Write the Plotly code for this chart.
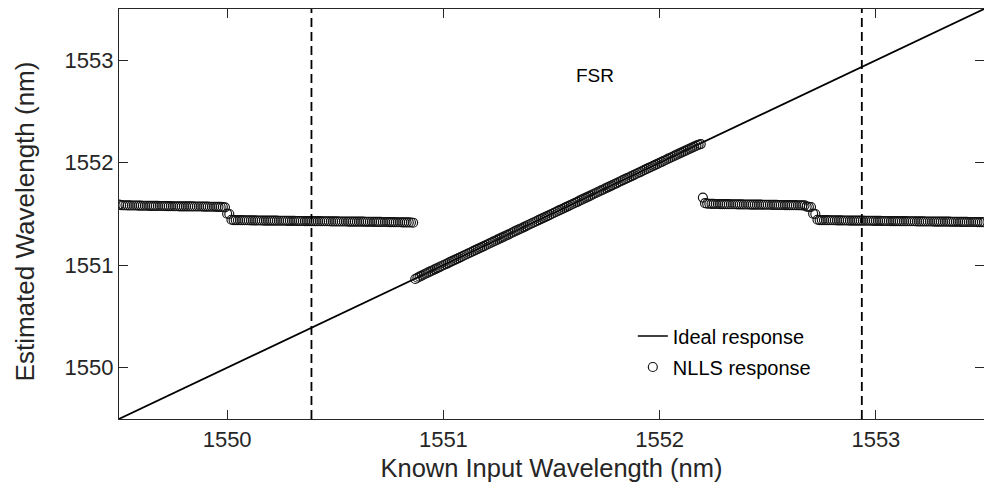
import plotly.graph_objects as go

# Known input wavelength sweep (nm), split into the three NLLS branches
x_branch_low = [
    1549.50, 1549.51, 1549.52, 1549.53, 1549.54, 1549.55, 1549.56, 1549.57, 1549.58, 1549.59,
    1549.60, 1549.61, 1549.62, 1549.63, 1549.64, 1549.65, 1549.66, 1549.67, 1549.68, 1549.69,
    1549.70, 1549.71, 1549.72, 1549.73, 1549.74, 1549.75, 1549.76, 1549.77, 1549.78, 1549.79,
    1549.80, 1549.81, 1549.82, 1549.83, 1549.84, 1549.85, 1549.86, 1549.87, 1549.88, 1549.89,
    1549.90, 1549.91, 1549.92, 1549.93, 1549.94, 1549.95, 1549.96, 1549.97, 1549.98, 1549.99,
    1550.00, 1550.01, 1550.02, 1550.03, 1550.04, 1550.05, 1550.06, 1550.07, 1550.08, 1550.09,
    1550.10, 1550.11, 1550.12, 1550.13, 1550.14, 1550.15, 1550.16, 1550.17, 1550.18, 1550.19,
    1550.20, 1550.21, 1550.22, 1550.23, 1550.24, 1550.25, 1550.26, 1550.27, 1550.28, 1550.29,
    1550.30, 1550.31, 1550.32, 1550.33, 1550.34, 1550.35, 1550.36, 1550.37, 1550.38, 1550.39,
    1550.40, 1550.41, 1550.42, 1550.43, 1550.44, 1550.45, 1550.46, 1550.47, 1550.48, 1550.49,
    1550.50, 1550.51, 1550.52, 1550.53, 1550.54, 1550.55, 1550.56, 1550.57, 1550.58, 1550.59,
    1550.60, 1550.61, 1550.62, 1550.63, 1550.64, 1550.65, 1550.66, 1550.67, 1550.68, 1550.69,
    1550.70, 1550.71, 1550.72, 1550.73, 1550.74, 1550.75, 1550.76, 1550.77, 1550.78, 1550.79,
    1550.80, 1550.81, 1550.82, 1550.83, 1550.84, 1550.85, 1550.86,
]
y_branch_low = [
    1551.592, 1551.586, 1551.585, 1551.585, 1551.584, 1551.584, 1551.583, 1551.583, 1551.583, 1551.582,
    1551.582, 1551.581, 1551.581, 1551.581, 1551.580, 1551.580, 1551.579, 1551.579, 1551.579, 1551.578,
    1551.578, 1551.578, 1551.577, 1551.577, 1551.577, 1551.576, 1551.576, 1551.576, 1551.575, 1551.575,
    1551.575, 1551.575, 1551.574, 1551.574, 1551.574, 1551.573, 1551.573, 1551.573, 1551.573, 1551.572,
    1551.572, 1551.572, 1551.571, 1551.571, 1551.571, 1551.570, 1551.570, 1551.569, 1551.568, 1551.565,
    1551.503, 1551.500, 1551.444, 1551.441, 1551.441, 1551.440, 1551.440, 1551.440, 1551.439, 1551.439,
    1551.439, 1551.438, 1551.438, 1551.438, 1551.437, 1551.437, 1551.437, 1551.436, 1551.436, 1551.436,
    1551.436, 1551.435, 1551.435, 1551.435, 1551.434, 1551.434, 1551.434, 1551.434, 1551.433, 1551.433,
    1551.433, 1551.433, 1551.432, 1551.432, 1551.432, 1551.432, 1551.431, 1551.431, 1551.431, 1551.431,
    1551.430, 1551.430, 1551.430, 1551.430, 1551.429, 1551.429, 1551.429, 1551.429, 1551.428, 1551.428,
    1551.428, 1551.428, 1551.427, 1551.427, 1551.427, 1551.427, 1551.426, 1551.426, 1551.426, 1551.426,
    1551.425, 1551.425, 1551.425, 1551.425, 1551.424, 1551.424, 1551.424, 1551.424, 1551.423, 1551.423,
    1551.423, 1551.423, 1551.422, 1551.422, 1551.422, 1551.421, 1551.421, 1551.421, 1551.420, 1551.420,
    1551.420, 1551.419, 1551.419, 1551.418, 1551.418, 1551.417, 1551.415,
]

x_branch_mid = [
    1550.87, 1550.88, 1550.89,
    1550.90, 1550.91, 1550.92, 1550.93, 1550.94, 1550.95, 1550.96, 1550.97, 1550.98, 1550.99,
    1551.00, 1551.01, 1551.02, 1551.03, 1551.04, 1551.05, 1551.06, 1551.07, 1551.08, 1551.09,
    1551.10, 1551.11, 1551.12, 1551.13, 1551.14, 1551.15, 1551.16, 1551.17, 1551.18, 1551.19,
    1551.20, 1551.21, 1551.22, 1551.23, 1551.24, 1551.25, 1551.26, 1551.27, 1551.28, 1551.29,
    1551.30, 1551.31, 1551.32, 1551.33, 1551.34, 1551.35, 1551.36, 1551.37, 1551.38, 1551.39,
    1551.40, 1551.41, 1551.42, 1551.43, 1551.44, 1551.45, 1551.46, 1551.47, 1551.48, 1551.49,
    1551.50, 1551.51, 1551.52, 1551.53, 1551.54, 1551.55, 1551.56, 1551.57, 1551.58, 1551.59,
    1551.60, 1551.61, 1551.62, 1551.63, 1551.64, 1551.65, 1551.66, 1551.67, 1551.68, 1551.69,
    1551.70, 1551.71, 1551.72, 1551.73, 1551.74, 1551.75, 1551.76, 1551.77, 1551.78, 1551.79,
    1551.80, 1551.81, 1551.82, 1551.83, 1551.84, 1551.85, 1551.86, 1551.87, 1551.88, 1551.89,
    1551.90, 1551.91, 1551.92, 1551.93, 1551.94, 1551.95, 1551.96, 1551.97, 1551.98, 1551.99,
    1552.00, 1552.01, 1552.02, 1552.03, 1552.04, 1552.05, 1552.06, 1552.07, 1552.08, 1552.09,
    1552.10, 1552.11, 1552.12, 1552.13, 1552.14, 1552.15, 1552.16, 1552.17, 1552.18, 1552.19,
]
y_branch_mid = [
    1550.866, 1550.878, 1550.889,
    1550.899, 1550.910, 1550.920, 1550.930, 1550.940, 1550.949, 1550.960, 1550.970, 1550.980, 1550.990,
    1551.000, 1551.010, 1551.019, 1551.030, 1551.040, 1551.050, 1551.060, 1551.069, 1551.080, 1551.090,
    1551.100, 1551.110, 1551.120, 1551.129, 1551.140, 1551.150, 1551.160, 1551.170, 1551.180, 1551.189,
    1551.200, 1551.210, 1551.220, 1551.230, 1551.239, 1551.250, 1551.260, 1551.270, 1551.280, 1551.290,
    1551.299, 1551.310, 1551.320, 1551.330, 1551.340, 1551.350, 1551.359, 1551.370, 1551.380, 1551.390,
    1551.400, 1551.410, 1551.420, 1551.429, 1551.440, 1551.450, 1551.460, 1551.470, 1551.480, 1551.489,
    1551.500, 1551.510, 1551.520, 1551.530, 1551.540, 1551.549, 1551.560, 1551.570, 1551.580, 1551.590,
    1551.600, 1551.610, 1551.619, 1551.630, 1551.640, 1551.650, 1551.660, 1551.670, 1551.679, 1551.690,
    1551.700, 1551.710, 1551.720, 1551.730, 1551.739, 1551.750, 1551.760, 1551.770, 1551.780, 1551.790,
    1551.799, 1551.810, 1551.820, 1551.830, 1551.840, 1551.850, 1551.859, 1551.870, 1551.880, 1551.890,
    1551.900, 1551.909, 1551.920, 1551.930, 1551.940, 1551.950, 1551.959, 1551.970, 1551.980, 1551.989,
    1552.000, 1552.009, 1552.020, 1552.029, 1552.040, 1552.049, 1552.059, 1552.069, 1552.079, 1552.089,
    1552.099, 1552.109, 1552.118, 1552.128, 1552.138, 1552.148, 1552.157, 1552.167, 1552.176, 1552.182,
]

x_branch_high = [
    1552.20, 1552.21, 1552.22, 1552.23, 1552.24, 1552.25, 1552.26, 1552.27, 1552.28, 1552.29,
    1552.30, 1552.31, 1552.32, 1552.33, 1552.34, 1552.35, 1552.36, 1552.37, 1552.38, 1552.39,
    1552.40, 1552.41, 1552.42, 1552.43, 1552.44, 1552.45, 1552.46, 1552.47, 1552.48, 1552.49,
    1552.50, 1552.51, 1552.52, 1552.53, 1552.54, 1552.55, 1552.56, 1552.57, 1552.58, 1552.59,
    1552.60, 1552.61, 1552.62, 1552.63, 1552.64, 1552.65, 1552.66, 1552.67, 1552.68, 1552.69,
    1552.70, 1552.71, 1552.72, 1552.73, 1552.74, 1552.75, 1552.76, 1552.77, 1552.78, 1552.79,
    1552.80, 1552.81, 1552.82, 1552.83, 1552.84, 1552.85, 1552.86, 1552.87, 1552.88, 1552.89,
    1552.90, 1552.91, 1552.92, 1552.93, 1552.94, 1552.95, 1552.96, 1552.97, 1552.98, 1552.99,
    1553.00, 1553.01, 1553.02, 1553.03, 1553.04, 1553.05, 1553.06, 1553.07, 1553.08, 1553.09,
    1553.10, 1553.11, 1553.12, 1553.13, 1553.14, 1553.15, 1553.16, 1553.17, 1553.18, 1553.19,
    1553.20, 1553.21, 1553.22, 1553.23, 1553.24, 1553.25, 1553.26, 1553.27, 1553.28, 1553.29,
    1553.30, 1553.31, 1553.32, 1553.33, 1553.34, 1553.35, 1553.36, 1553.37, 1553.38, 1553.39,
    1553.40, 1553.41, 1553.42, 1553.43, 1553.44, 1553.45, 1553.46, 1553.47, 1553.48, 1553.49,
    1553.50,
]
y_branch_high = [
    1551.660, 1551.606, 1551.601, 1551.600, 1551.599, 1551.599, 1551.598, 1551.598, 1551.597, 1551.597,
    1551.596, 1551.596, 1551.596, 1551.595, 1551.595, 1551.595, 1551.594, 1551.594, 1551.594, 1551.593,
    1551.593, 1551.593, 1551.592, 1551.592, 1551.592, 1551.591, 1551.591, 1551.591, 1551.590, 1551.590,
    1551.590, 1551.590, 1551.589, 1551.589, 1551.589, 1551.588, 1551.588, 1551.588, 1551.587, 1551.587,
    1551.587, 1551.586, 1551.586, 1551.586, 1551.585, 1551.585, 1551.584, 1551.584, 1551.572, 1551.570,
    1551.568, 1551.503, 1551.500, 1551.444, 1551.441, 1551.441, 1551.440, 1551.440, 1551.440, 1551.439,
    1551.439, 1551.439, 1551.438, 1551.438, 1551.438, 1551.437, 1551.437, 1551.437, 1551.436, 1551.436,
    1551.436, 1551.436, 1551.435, 1551.435, 1551.435, 1551.434, 1551.434, 1551.434, 1551.434, 1551.433,
    1551.433, 1551.433, 1551.433, 1551.432, 1551.432, 1551.432, 1551.432, 1551.431, 1551.431, 1551.431,
    1551.431, 1551.430, 1551.430, 1551.430, 1551.430, 1551.429, 1551.429, 1551.429, 1551.429, 1551.428,
    1551.428, 1551.428, 1551.428, 1551.427, 1551.427, 1551.427, 1551.427, 1551.426, 1551.426, 1551.426,
    1551.426, 1551.425, 1551.425, 1551.425, 1551.425, 1551.424, 1551.424, 1551.424, 1551.424, 1551.423,
    1551.423, 1551.423, 1551.423, 1551.422, 1551.422, 1551.422, 1551.422, 1551.421, 1551.421, 1551.421,
    1551.420,
]

# Ideal (estimated = known) response end points and FSR boundaries
ideal_x = [1549.5, 1553.5]
ideal_y = [1549.5, 1553.5]
fsr_bounds = [1550.39, 1552.935]
fsr_label = "FSR"
fsr_label_pos = (1551.70, 1552.85)

axis_range = [1549.5, 1553.5]
tick_vals = [1550, 1551, 1552, 1553]
tick_text = ["1550", "1551", "1552", "1553"]

x_title = "Known Input Wavelength (nm)"
y_title = "Estimated Wavelength (nm)"

nlls_x = x_branch_low + x_branch_mid + x_branch_high
nlls_y = y_branch_low + y_branch_mid + y_branch_high

FONT = "Liberation Sans, Arial, sans-serif"
INK = "#262626"

fig = go.Figure()

fig.add_trace(go.Scatter(
    x=ideal_x, y=ideal_y, mode="lines", name="Ideal response",
    line=dict(color="black", width=1.7), legendgroup="ideal",
))
fig.add_trace(go.Scatter(
    x=nlls_x, y=nlls_y, mode="markers", name="NLLS response",
    marker=dict(symbol="circle-open", size=9, color="#111111", line=dict(width=1.15)),
    legendgroup="nlls",
))

for xb in fsr_bounds:
    fig.add_vline(x=xb, line=dict(color="black", width=1.8, dash="9px,5px"))

fig.add_annotation(
    x=fsr_label_pos[0], y=fsr_label_pos[1], text=fsr_label, showarrow=False,
    font=dict(family=FONT, size=19, color="black"),
)

# Vertical axis title, placed beside the tick labels
fig.add_annotation(
    xref="paper", yref="paper", x=0, y=0.482, xshift=-94,
    xanchor="center", yanchor="middle",
    text=y_title, textangle=-90, showarrow=False,
    font=dict(family=FONT, size=26, color=INK),
)

axis_common = dict(
    range=axis_range, tickvals=tick_vals, ticktext=tick_text,
    showline=True, mirror="ticks", linecolor=INK, linewidth=1.3,
    ticks="inside", ticklen=9, tickwidth=1.3, tickcolor=INK,
    showgrid=False, zeroline=False,
    tickfont=dict(family=FONT, size=22, color=INK),
)

fig.update_xaxes(
    **axis_common,
    title=dict(text=x_title, font=dict(family=FONT, size=25.5, color=INK), standoff=8),
)
fig.update_yaxes(**axis_common)

fig.update_layout(
    width=984, height=491,
    margin=dict(l=119, r=0, t=9, b=72),
    paper_bgcolor="white", plot_bgcolor="white",
    showlegend=True,
    legend=dict(
        x=0.594, y=0.25, xanchor="left", yanchor="top",
        bgcolor="rgba(0,0,0,0)", borderwidth=0,
        font=dict(family=FONT, size=20, color="black"),
        tracegroupgap=2,
    ),
)

fig.write_html("out.html")
